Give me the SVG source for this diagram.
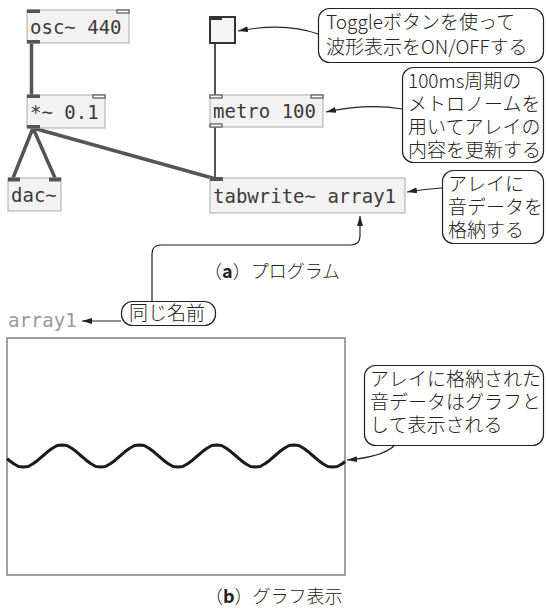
<svg xmlns="http://www.w3.org/2000/svg" width="546" height="612" viewBox="0 0 546 612">
<defs>
<style>
.box{fill:#f2f2f2;stroke:#b8b8b8;stroke-width:1.2}
.pd{font-family:"DejaVu Sans Mono","Liberation Mono",monospace;font-size:19px;fill:#3a3a3a}
.sig{fill:#555}
.ctl{fill:#fff;stroke:#555;stroke-width:1.2}
.sigline{stroke:#555;stroke-width:3.5;fill:none}
.ctlline{stroke:#555;stroke-width:2;fill:none}
.bubble{fill:#fff;stroke:#222;stroke-width:1.2}
.bt{font-family:"Noto Sans CJK JP","Noto Sans",sans-serif;font-size:19px;font-weight:300;fill:#222}
.cap{font-family:"Noto Sans CJK JP","Noto Sans",sans-serif;font-size:18px;font-weight:300;fill:#222}
.arrow{stroke:#222;stroke-width:1.2;fill:none;marker-end:url(#ah)}
</style>
<marker id="ah" viewBox="0 0 10 6" refX="10" refY="3" markerWidth="10" markerHeight="6" markerUnits="userSpaceOnUse" orient="auto">
<path d="M0,0 L10,3 L0,6 Z" fill="#222"/>
</marker>
</defs>

<g id="connectors">
<line class="sigline" x1="31.5" y1="43" x2="31.5" y2="95"/>
<line class="sigline" x1="33" y1="128" x2="13" y2="178"/>
<line class="sigline" x1="33" y1="128" x2="55" y2="178"/>
<line class="sigline" x1="33" y1="128" x2="216" y2="179"/>
<line class="ctlline" x1="215" y1="43" x2="215" y2="95"/>
<line class="ctlline" x1="215" y1="127" x2="215" y2="178"/>
</g>

<g id="osc">
<rect class="box" x="27" y="10" width="102" height="33"/>
<rect class="sig" x="27" y="9.5" width="13" height="3.5"/>
<rect class="ctl" x="117" y="10" width="12" height="3"/>
<rect class="sig" x="27" y="40" width="13" height="3.5"/>
<text class="pd" x="30" y="34">osc~ 440</text>
</g>

<g id="mul">
<rect class="box" x="27" y="95" width="78" height="33"/>
<rect class="sig" x="27" y="94.5" width="13" height="3.5"/>
<rect class="ctl" x="93" y="95" width="12" height="3"/>
<rect class="sig" x="27" y="125" width="13" height="3.5"/>
<text class="pd" x="30" y="119">*~ 0.1</text>
</g>

<g id="dac">
<rect class="box" x="8" y="178" width="53" height="33"/>
<rect class="sig" x="8" y="177.5" width="12" height="4"/>
<rect class="sig" x="49" y="177.5" width="12" height="4"/>
<text class="pd" x="11" y="202">dac~</text>
</g>

<g id="toggle">
<rect x="210" y="17" width="25" height="26" fill="#f4f4f4" stroke="#333" stroke-width="2"/>
<rect x="209" y="16" width="13" height="4" fill="#333"/>
</g>

<g id="metro">
<rect class="box" x="210" y="95" width="113" height="32"/>
<rect class="ctl" x="210" y="95" width="12" height="3"/>
<rect class="ctl" x="311" y="95" width="12" height="3"/>
<rect class="ctl" x="210" y="124" width="12" height="3"/>
<text class="pd" x="213" y="118">metro 100</text>
</g>

<g id="tabwrite">
<rect class="box" x="210" y="178" width="195" height="35"/>
<rect class="sig" x="210" y="177" width="13" height="4"/>
<text class="pd" x="213" y="203">tabwrite~ array1</text>
</g>

<g id="note-toggle">
<rect class="bubble" x="318.5" y="8.5" width="225" height="54" rx="11"/>
<text class="bt" x="326" y="29" font-size="20">Toggleボタンを使って</text>
<text class="bt" x="326" y="54" font-size="20">波形表示をON/OFFする</text>
<path class="arrow" d="M318,34 Q285,22 238,31"/>
</g>

<g id="note-metro">
<rect class="bubble" x="402.5" y="67.5" width="141" height="95" rx="11"/>
<text class="bt" x="408" y="88">100ms周期の</text>
<text class="bt" x="408" y="111">メトロノームを</text>
<text class="bt" x="408" y="134">用いてアレイの</text>
<text class="bt" x="408" y="157">内容を更新する</text>
<path class="arrow" d="M402,109 Q368,103 326,112"/>
</g>

<g id="note-tabwrite">
<rect class="bubble" x="442.5" y="170.5" width="101" height="73" rx="11"/>
<text class="bt" x="448" y="191">アレイに</text>
<text class="bt" x="448" y="214">音データを</text>
<text class="bt" x="448" y="237">格納する</text>
<path class="arrow" d="M442,188 Q425,189 407,192"/>
</g>

<g id="caption-a">
<text class="cap" x="204" y="278">（<tspan font-weight="bold">a</tspan>）プログラム</text>
</g>

<g id="note-name">
<rect class="bubble" x="121.5" y="301.5" width="94" height="24" rx="11"/>
<text class="bt" x="129" y="320">同じ名前</text>
<path class="arrow" d="M121,321 L82,321"/>
<path class="arrow" d="M152,301 L152,254 Q152,245 161,245 L351,245 Q360,245 360,236 L360,216"/>
</g>

<g id="array-label">
<text class="pd" x="8" y="327" style="fill:#999">array1</text>
</g>

<g id="graph">
<rect x="7" y="338" width="338" height="237" fill="#fff" stroke="#888" stroke-width="1.6"/>
<polyline fill="none" stroke="#1a1a1a" stroke-width="3" stroke-linejoin="round" points="7,458.6 8.9,460.2 13.7,463.8 18.5,466.5 23.4,467 28.2,466.5 33,463.8 37.9,460.2 42.7,456 47.5,451.8 52.4,448.2 57.2,445.5 62,445 66.9,445.5 71.7,448.2 76.5,451.8 81.3,456 86.2,460.2 91,463.8 95.8,466.5 100.7,467 105.5,466.5 110.3,463.8 115.2,460.2 120,456 124.8,451.8 129.7,448.2 134.5,445.5 139.3,445 144.2,445.5 149,448.2 153.8,451.8 158.6,456 163.5,460.2 168.3,463.8 173.1,466.5 178,467 182.8,466.5 187.6,463.8 192.5,460.2 197.3,456 202.1,451.8 207,448.2 211.8,445.5 216.6,445 221.5,445.5 226.3,448.2 231.1,451.8 236,456 240.8,460.2 245.6,463.8 250.4,466.5 255.3,467 260.1,466.5 264.9,463.8 269.8,460.2 274.6,456 279.4,451.8 284.3,448.2 289.1,445.5 293.9,445 298.8,445.5 303.6,448.2 308.4,451.8 313.2,456 318.1,460.2 322.9,463.8 327.7,466.5 332.6,467 337.4,466.5 342.2,463.8 345,461.5"/>
</g>

<g id="note-graph">
<rect class="bubble" x="364.5" y="365.5" width="179" height="80" rx="11"/>
<text class="bt" x="370" y="386">アレイに格納された</text>
<text class="bt" x="370" y="409">音データはグラフと</text>
<text class="bt" x="370" y="432">して表示される</text>
<path class="arrow" d="M394,446 Q382,457 347,460"/>
</g>

<g id="caption-b">
<text class="cap" x="205" y="603">（<tspan font-weight="bold">b</tspan>）グラフ表示</text>
</g>
</svg>
